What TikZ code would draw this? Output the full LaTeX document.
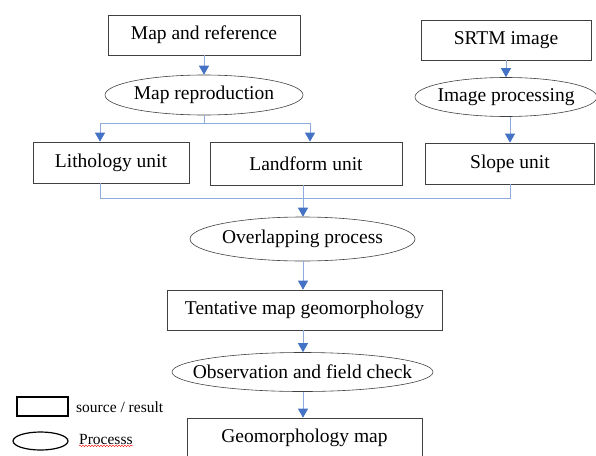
\documentclass[tikz,border=0pt]{standalone}
\usepackage{fontspec}
\setmainfont{Liberation Serif}
\usetikzlibrary{shapes.geometric,arrows.meta,decorations.pathmorphing}
\definecolor{link-blue}{HTML}{8FAADC}
\definecolor{tip-blue}{HTML}{4472C4}
\definecolor{frame-gray}{HTML}{404040}

\begin{document}
\begin{tikzpicture}[x=1pt,y=-1pt,
    every node/.style={font=\fontsize{19.5}{22}\selectfont, inner sep=0pt},
    every label/.style={font=\fontsize{19.5}{22}\selectfont, inner sep=0pt},
    srcbox/.style={draw=frame-gray, line width=0.7pt, minimum width=#1, minimum height=40pt},
    procell/.style={ellipse, draw=frame-gray, line width=0.6pt, minimum width=#1, minimum height=40pt},
    link/.style={draw=link-blue, line width=0.8pt},
    flow/.style={link, -{Triangle[length=9pt, width=10pt, color=tip-blue]}},
    legtext/.style={font=\fontsize{15.5}{18}\selectfont, anchor=west}]
    \useasboundingbox (0,0) rectangle (596,455);
    % sources and processes
    \node[srcbox=192pt] (mapref) at (204,35) {Map and reference};
    \node[srcbox=170pt] (srtm) at (506,40) {SRTM image};
    \node[procell=198pt, label=center:{Map reproduction}] (mapreprod) at (204,95) {};
    \node[procell=182pt, minimum height=39pt, label=center:{Image processing}] (imgproc) at (506,97) {};
    \node[srcbox=156pt, minimum height=41pt] (litho) at (111,162.5) {Lithology unit};
    \node[srcbox=192pt, minimum height=43pt] (landform) at (306,163.5) {Landform unit};
    \node[srcbox=169pt, minimum height=41pt] (slope) at (510,163.5) {Slope unit};
    \node[procell=225pt, minimum height=44pt, label=center:{Overlapping process}] (overlap) at (302.5,239) {};
    \node[srcbox=275pt] (tentative) at (304.5,310) {Tentative map geomorphology};
    \node[procell=261pt, minimum height=39pt, label=center:{Observation and field check}] (observ) at (302.5,372) {};
    \node[srcbox=235pt] (geomap) at (304.5,438) {Geomorphology map};
    % connectors
    \draw[flow] (mapref) -- (mapreprod);
    \draw[flow] (srtm) -- (imgproc);
    \coordinate (splitL) at (100,123);
    \coordinate (splitR) at (310,123);
    \draw[link] (mapreprod.south) -- (mapreprod.south |- splitL);
    \draw[link] (splitL) -- (splitR);
    \draw[flow] (splitL) -- (splitL |- litho.north);
    \draw[flow] (splitR) -- (splitR |- landform.north);
    \draw[flow] (slope.north |- imgproc.south) -- (slope.north);
    \coordinate (joinL) at (100,198);
    \coordinate (joinR) at (510,198);
    \draw[link] (joinL |- litho.south) -- (joinL) -- (joinR) -- (joinR |- slope.south);
    \coordinate (trunk) at (303,0);
    \draw[flow] (trunk |- landform.south) -- (trunk |- overlap.north);
    \draw[flow] (trunk |- overlap.south) -- (trunk |- tentative.north);
    \draw[flow] (trunk |- tentative.south) -- (trunk |- observ.north);
    \draw[flow] (trunk |- observ.south) -- (trunk |- geomap.north);
    % legend
    \node[draw=black, line width=1.2pt, minimum width=51pt, minimum height=19pt] (legbox) at (42.5,406.5) {};
    \node[legtext] (legsrc) at (76,407) {source / result};
    \node[ellipse, draw=black, line width=1.2pt, minimum width=55pt, minimum height=18pt] (legell) at (40.5,441) {};
    \node[legtext] (legproc) at (79,439.5) {Processs};
    \draw[red, line width=0.4pt, decorate, decoration={snake, amplitude=0.8pt, segment length=3pt}]
      (legproc.south west) ++(0,1) -- ++(54,0);
\end{tikzpicture}
\end{document}
